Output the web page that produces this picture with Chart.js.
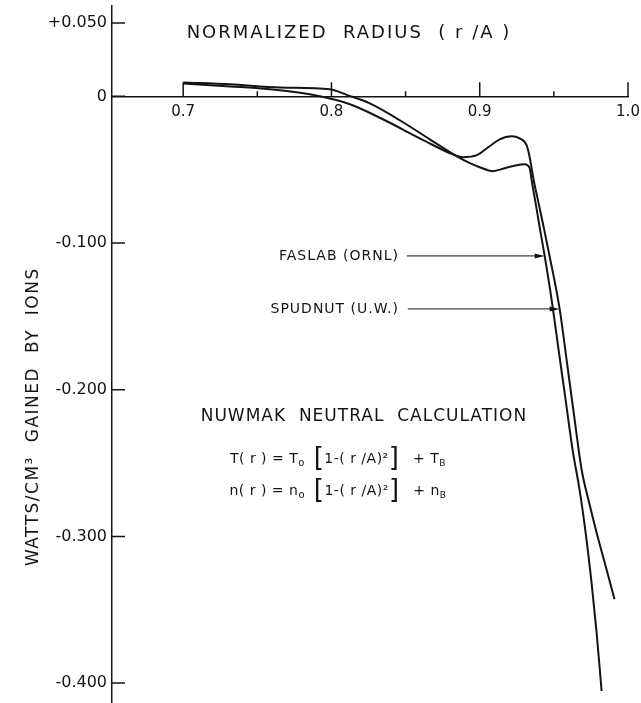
<!DOCTYPE html>
<html lang="en">
<head>
<meta charset="UTF-8">
<title>NUWMAK neutral calculation</title>
<script src="https://cdn.jsdelivr.net/npm/chart.js"></script>
<style>
  body { margin: 0; background: #fff; }
  #wrap { width: 641px; height: 703px; }
</style>
</head>
<body>
<div id="wrap"><canvas id="chart"></canvas></div>
<script>
// normalized radius r/A and watts/cm3 gained by ions
const faslabR = [0.700, 0.7317, 0.7653, 0.799, 0.8111, 0.8259, 0.8461, 0.8663, 0.8832, 0.8919,
  0.900, 0.9088, 0.9168, 0.9249, 0.9303, 0.9337, 0.935, 0.9377, 0.9404, 0.9438,
  0.9485, 0.9532, 0.9579, 0.9626, 0.9673, 0.9714, 0.9754, 0.9788, 0.9822];
const faslabW = [0.0095, 0.0082, 0.0061, 0.0048, 0.0007, -0.0048, -0.0163, -0.0293, -0.0401, -0.0449,
  -0.0483, -0.051, -0.049, -0.0469, -0.0463, -0.049, -0.0571, -0.0728, -0.0891, -0.1088,
  -0.1388, -0.1728, -0.2068, -0.2408, -0.268, -0.2973, -0.3313, -0.3653, -0.4054];

const spudR = [0.700, 0.7317, 0.7653, 0.7889, 0.8125, 0.836, 0.8596, 0.8832, 0.8886, 0.898,
  0.9067, 0.9135, 0.9215, 0.9269, 0.9316, 0.9337, 0.935, 0.9364, 0.9397, 0.9431,
  0.9471, 0.9539, 0.9586, 0.964, 0.9687, 0.9741, 0.9788, 0.9855, 0.9909];
const spudW = [0.0088, 0.0068, 0.0041, 0.0007, -0.0054, -0.0163, -0.0286, -0.0401, -0.0415, -0.0401,
  -0.034, -0.0293, -0.0272, -0.0286, -0.0333, -0.0415, -0.049, -0.0571, -0.0728, -0.0891,
  -0.1088, -0.1449, -0.1796, -0.2204, -0.2544, -0.2782, -0.2973, -0.3224, -0.3429];

const yTicks = [0.05, 0, -0.1, -0.2, -0.3, -0.4];
const yLabels = ['+0.050', '0', '-0.100', '-0.200', '-0.300', '-0.400'];
const xTicks = [0.7, 0.75, 0.8, 0.85, 0.9, 0.95, 1.0];
const xLabels = ['0.7', '', '0.8', '', '0.9', '', '1.0'];

const ink = '#141414';
const font = 'DejaVu Sans';

function pts(rs, ws) {
  return rs.map((r, i) => ({ x: r, y: ws[i] }));
}

// tick marks point into the plot, so they are drawn here
const axisMarks = {
  id: 'axisMarks',
  afterDraw(chart) {
    const { ctx, chartArea, scales: { x, y } } = chart;
    const y0 = y.getPixelForValue(0);
    ctx.save();
    ctx.strokeStyle = ink;
    ctx.lineWidth = 1.5;
    ctx.beginPath();
    yTicks.forEach(v => {
      const py = y.getPixelForValue(v);
      ctx.moveTo(chartArea.left, py);
      ctx.lineTo(chartArea.left + 13, py);
    });
    xTicks.forEach((v, i) => {
      const px = x.getPixelForValue(v);
      ctx.moveTo(px, y0);
      ctx.lineTo(px, y0 - (xLabels[i] ? 14 : 5));
    });
    ctx.stroke();
    ctx.restore();
  }
};

function drawParts(ctx, parts, cx, cy) {
  let w = 0;
  parts.forEach(p => { ctx.font = p[1] + 'px ' + font; w += ctx.measureText(p[0]).width; });
  let px = cx - w / 2;
  parts.forEach(p => {
    ctx.font = p[1] + 'px ' + font;
    ctx.fillText(p[0], px, cy + p[2]);
    px += ctx.measureText(p[0]).width;
  });
}

function arrow(ctx, x1, x2, py) {
  ctx.beginPath();
  ctx.moveTo(x1, py);
  ctx.lineTo(x2 - 8, py);
  ctx.stroke();
  ctx.beginPath();
  ctx.moveTo(x2, py);
  ctx.lineTo(x2 - 10, py - 2.5);
  ctx.lineTo(x2 - 10, py + 2.5);
  ctx.closePath();
  ctx.fill();
}

const notes = {
  id: 'notes',
  afterDraw(chart) {
    const { ctx, scales: { x, y } } = chart;
    ctx.save();
    ctx.fillStyle = ink;
    ctx.strokeStyle = ink;
    ctx.textBaseline = 'middle';

    ctx.letterSpacing = '2px';
    ctx.textAlign = 'center';
    ctx.font = '18px ' + font;
    ctx.fillText('NORMALIZED  RADIUS  ( r /A )', x.getPixelForValue(0.8118), y.getPixelForValue(0.0429));
    ctx.letterSpacing = '1px';
    ctx.font = '17px ' + font;
    ctx.fillText('NUWMAK  NEUTRAL  CALCULATION', x.getPixelForValue(0.8219), y.getPixelForValue(-0.2184));

    ctx.save();
    ctx.translate(34, y.getPixelForValue(-0.2184));
    ctx.rotate(-Math.PI / 2);
    ctx.letterSpacing = '1.5px';
    ctx.font = '17px ' + font;
    ctx.fillText('WATTS/CM³  GAINED  BY  IONS', 0, 0);
    ctx.restore();

    ctx.letterSpacing = '0.5px';
    ctx.textAlign = 'left';
    const fx = x.getPixelForValue(0.8044);
    drawParts(ctx, [['T( r ) = T', 14, 0], ['o', 10, 4], [' [', 26, 0], ['1-( r /A)²', 14, 0],
      ['] ', 26, 0], [' + T', 14, 0], ['B', 9, 4]], fx, y.getPixelForValue(-0.2476));
    drawParts(ctx, [['n( r ) = n', 14, 0], ['o', 10, 4], [' [', 26, 0], ['1-( r /A)²', 14, 0],
      ['] ', 26, 0], [' + n', 14, 0], ['B', 9, 4]], fx, y.getPixelForValue(-0.2694));

    ctx.letterSpacing = '1px';
    ctx.textAlign = 'right';
    ctx.font = '14px ' + font;
    ctx.fillText('FASLAB (ORNL)', x.getPixelForValue(0.8455), y.getPixelForValue(-0.1088));
    ctx.fillText('SPUDNUT (U.W.)', x.getPixelForValue(0.8455), y.getPixelForValue(-0.1449));
    ctx.lineWidth = 1;
    arrow(ctx, x.getPixelForValue(0.8508), x.getPixelForValue(0.9438), y.getPixelForValue(-0.1088));
    arrow(ctx, x.getPixelForValue(0.8515), x.getPixelForValue(0.9539), y.getPixelForValue(-0.1449));
    ctx.restore();
  }
};

const whiteBg = {
  id: 'whiteBg',
  beforeDraw(chart) {
    const { ctx, width, height } = chart;
    ctx.save();
    ctx.fillStyle = '#fff';
    ctx.fillRect(0, 0, width, height);
    ctx.restore();
  }
};

function noPad(s) {
  s.paddingTop = 0; s.paddingBottom = 0; s.paddingLeft = 0; s.paddingRight = 0;
}

new Chart(document.getElementById('chart'), {
  type: 'line',
  data: {
    datasets: [
      { label: 'FASLAB (ORNL)', data: pts(faslabR, faslabW) },
      { label: 'SPUDNUT (U.W.)', data: pts(spudR, spudW) }
    ]
  },
  options: {
    responsive: true,
    maintainAspectRatio: false,
    animation: false,
    layout: { padding: { top: 6, right: 13, bottom: 0, left: 0 } },
    elements: {
      line: { borderColor: ink, borderWidth: 2, cubicInterpolationMode: 'monotone' },
      point: { radius: 0 }
    },
    plugins: { legend: { display: false }, tooltip: { enabled: false } },
    scales: {
      x: {
        type: 'linear',
        position: { y: 0 },
        min: 0.652,
        max: 1.0,
        afterBuildTicks: s => { s.ticks = xTicks.map(v => ({ value: v })); },
        afterFit: noPad,
        grid: { display: false, drawTicks: false },
        border: { display: true, color: ink, width: 1.5 },
        ticks: {
          autoSkip: false,
          maxRotation: 0,
          padding: 7,
          color: ink,
          font: { family: font, size: 15 },
          callback: (v, i) => xLabels[i]
        }
      },
      y: {
        type: 'linear',
        position: 'left',
        min: -0.4136,
        max: 0.0616,
        afterBuildTicks: s => { s.ticks = yTicks.map(v => ({ value: v })); },
        afterFit: s => { s.width = 112; noPad(s); },
        grid: { display: false, drawTicks: false },
        border: { display: true, color: ink, width: 1.5 },
        ticks: {
          padding: 5,
          color: ink,
          font: { family: font, size: 16 },
          callback: (v, i) => yLabels[i]
        }
      }
    }
  },
  plugins: [whiteBg, axisMarks, notes]
});
</script>
</body>
</html>
